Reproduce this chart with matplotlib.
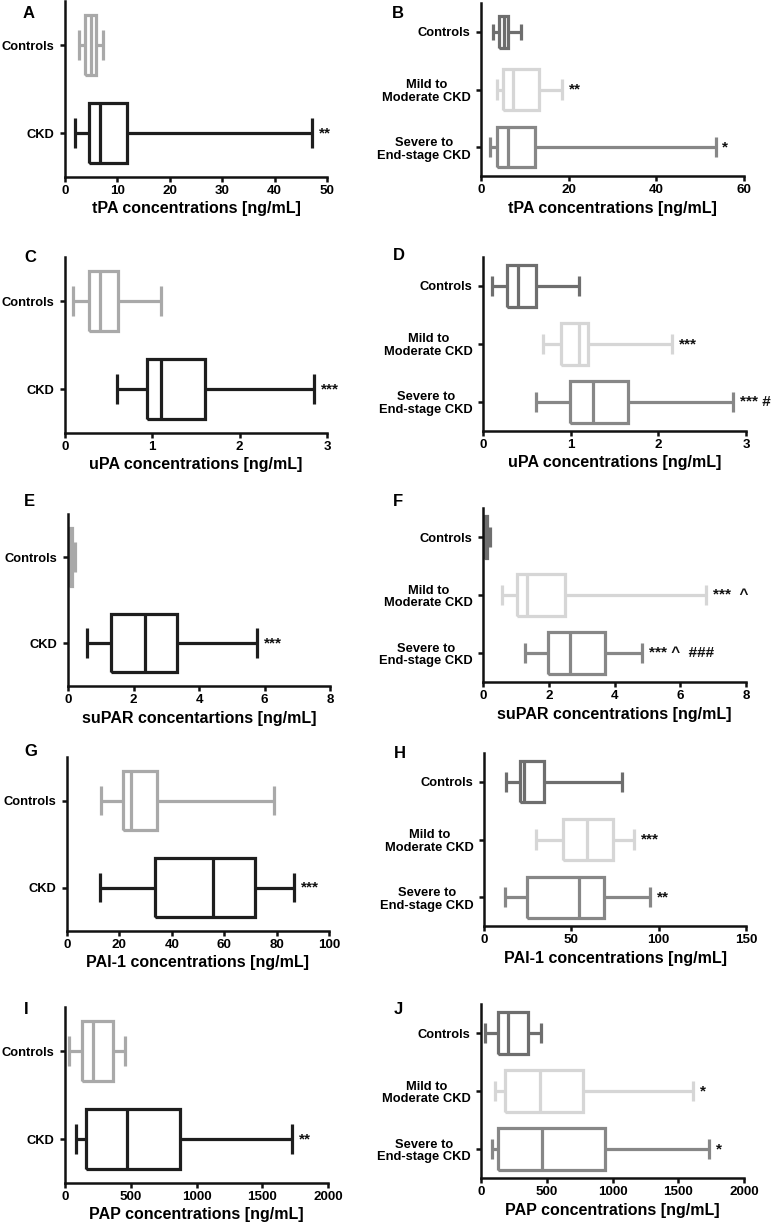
import matplotlib
matplotlib.use('Agg')
import matplotlib.pyplot as plt

W, H = 773, 1227
plt.rcParams['font.family'] = ['Liberation Sans', 'DejaVu Sans']
plt.rcParams['font.weight'] = 'bold'
plt.rcParams['axes.labelweight'] = 'bold'

# ---------------- data: [min, Q1, median, Q3, max] ----------------
groups_2 = ['Controls', 'CKD']
groups_3 = ['Controls', 'Mild to\nModerate CKD', 'Severe to\nEnd-stage CKD']

tpa_2_controls = [2.7, 3.8, 4.9, 5.9, 7.3]
tpa_2_ckd = [2.0, 4.6, 6.6, 11.8, 47.2]
tpa_3_controls = [2.7, 4.2, 5.2, 6.2, 9.1]
tpa_3_mild = [3.6, 5.1, 7.4, 13.3, 18.5]
tpa_3_severe = [2.0, 3.6, 6.2, 12.3, 53.5]

upa_2_controls = [0.09, 0.27, 0.40, 0.61, 1.10]
upa_2_ckd = [0.60, 0.94, 1.10, 1.60, 2.85]
upa_3_controls = [0.10, 0.27, 0.40, 0.60, 1.10]
upa_3_mild = [0.69, 0.89, 1.10, 1.20, 2.16]
upa_3_severe = [0.60, 0.99, 1.25, 1.65, 2.85]

supar_2_controls = [0.0, 0.03, 0.08, 0.12, 0.22]
supar_2_ckd = [0.58, 1.32, 2.34, 3.33, 5.76]
supar_3_controls = [0.0, 0.03, 0.08, 0.12, 0.22]
supar_3_mild = [0.59, 1.04, 1.35, 2.49, 6.79]
supar_3_severe = [1.29, 1.98, 2.64, 3.71, 4.85]

pai_2_controls = [12.9, 21.3, 24.5, 34.5, 79.0]
pai_2_ckd = [12.7, 33.6, 55.6, 71.7, 86.8]
pai_3_controls = [12.4, 20.8, 23.0, 34.2, 78.8]
pai_3_mild = [30.0, 45.3, 58.7, 74.0, 86.0]
pai_3_severe = [12.0, 24.9, 54.3, 68.6, 95.0]

pap_2_controls = [30, 127, 210, 362, 456]
pap_2_ckd = [84, 157, 468, 873, 1729]
pap_3_controls = [33, 132, 208, 361, 457]
pap_3_mild = [107, 185, 450, 775, 1609]
pap_3_severe = [81, 132, 465, 945, 1736]

# significance marks
marks_A = ['', '**']
marks_B = ['', '**', '*']
marks_C = ['', '***']
marks_D = ['', '***', '*** #']
marks_E = ['', '***']
marks_F = ['', '***  ^', '*** ^  ###']
marks_G = ['', '***']
marks_H = ['', '***', '**']
marks_I = ['', '**']
marks_J = ['', '*', '*']

xlabels = {
    'A': 'tPA concentrations [ng/mL]', 'B': 'tPA concentrations [ng/mL]',
    'C': 'uPA concentrations [ng/mL]', 'D': 'uPA concentrations [ng/mL]',
    'E': 'suPAR concentartions [ng/mL]', 'F': 'suPAR concentrations [ng/mL]',
    'G': 'PAI-1 concentrations [ng/mL]', 'H': 'PAI-1 concentrations [ng/mL]',
    'I': 'PAP concentrations [ng/mL]', 'J': 'PAP concentrations [ng/mL]',
}

# ---------------- styling ----------------
col2 = ['#a9a9a9', '#1e1e1e']
col3 = ['#6e6e6e', '#d6d6d6', '#878787']

fig = plt.figure(figsize=(W / 100, H / 100), dpi=100)
fig.patch.set_facecolor('white')


def panel(rect, letter, letter_xy, cats, stats, colors, marks, xmax, xticks, widths):
    l, t, r, b = rect
    ax = fig.add_axes([l / W, 1 - b / H, (r - l) / W, (b - t) / H])
    n = len(cats)
    pos = list(range(n - 1, -1, -1))
    bstats = [dict(whislo=s[0], q1=s[1], med=s[2], q3=s[3], whishi=s[4], fliers=[]) for s in stats]
    art = ax.bxp(bstats, positions=pos, widths=widths, orientation='horizontal',
                 showfliers=False)
    lw = 2.3
    for i, c in enumerate(colors):
        items = [art['boxes'][i], art['medians'][i],
                 art['whiskers'][2 * i], art['whiskers'][2 * i + 1],
                 art['caps'][2 * i], art['caps'][2 * i + 1]]
        for it in items:
            it.set_color(c)
            it.set_linewidth(lw)
            it.set_solid_capstyle('butt')
            it.set_solid_joinstyle('miter')
    for i, m in enumerate(marks):
        if m:
            ax.annotate(m, xy=(stats[i][4], pos[i]), xytext=(5, 0), textcoords='offset points',
                        va='center', ha='left', fontsize=11, fontweight='bold', color='#111111')
    ax.set_xlim(0, xmax)
    ax.set_ylim(-0.5, n - 0.5)
    ax.set_xticks(xticks)
    ax.set_xticklabels([str(v) for v in xticks], fontsize=9.6, fontweight='bold')
    ax.set_yticks(pos)
    ax.set_yticklabels(cats, fontsize=9.3, fontweight='bold', multialignment='center',
                       linespacing=1.1)
    for s in ('top', 'right'):
        ax.spines[s].set_visible(False)
    for s in ('left', 'bottom'):
        ax.spines[s].set_linewidth(1.8)
        ax.spines[s].set_color('#111111')
    ax.tick_params(axis='x', direction='out', length=3.5, width=1.8, color='#111111', pad=2.5)
    ax.tick_params(axis='y', direction='out', length=3.5, width=1.8, color='#111111', pad=4)
    ax.set_xlabel(xlabels[letter], fontsize=11.5, fontweight='bold', labelpad=3)
    ax.set_facecolor('none')
    fig.text(letter_xy[0] / W, 1 - letter_xy[1] / H, letter, fontsize=12, fontweight='bold',
             ha='left', va='center')
    return ax


xt_tpa2 = [0, 10, 20, 30, 40, 50]
xt_tpa3 = [0, 20, 40, 60]
xt_upa = [0, 1, 2, 3]
xt_supar = [0, 2, 4, 6, 8]
xt_pai2 = [0, 20, 40, 60, 80, 100]
xt_pai3 = [0, 50, 100, 150]
xt_pap = [0, 500, 1000, 1500, 2000]

w2 = 0.68
w3 = [0.56, 0.71, 0.70]

panel((65, 1, 327, 177), 'A', (23, 14), groups_2, [tpa_2_controls, tpa_2_ckd], col2, marks_A, 50, xt_tpa2, w2)
panel((481, 3, 744, 176), 'B', (392, 14), groups_3, [tpa_3_controls, tpa_3_mild, tpa_3_severe], col3, marks_B, 60, xt_tpa3, w3)
panel((65, 257, 327, 433), 'C', (24, 257), groups_2, [upa_2_controls, upa_2_ckd], col2, marks_C, 3, xt_upa, w2)
panel((483, 257, 746, 431), 'D', (393, 256), groups_3, [upa_3_controls, upa_3_mild, upa_3_severe], col3, marks_D, 3, xt_upa, 0.71)
panel((68, 514, 330, 686), 'E', (24, 502), groups_2, [supar_2_controls, supar_2_ckd], col2, marks_E, 8, xt_supar, w2)
panel((483, 508, 746, 682), 'F', (393, 502), groups_3, [supar_3_controls, supar_3_mild, supar_3_severe], col3, marks_F, 8, xt_supar, 0.71)
panel((67, 757, 329, 931), 'G', (24, 752), groups_2, [pai_2_controls, pai_2_ckd], col2, marks_G, 100, xt_pai2, w2)
panel((484, 753, 746, 926), 'H', (394, 753), groups_3, [pai_3_controls, pai_3_mild, pai_3_severe], col3, marks_H, 150, xt_pai3, 0.71)
panel((65, 1007, 328, 1183), 'I', (24, 1010), groups_2, [pap_2_controls, pap_2_ckd], col2, marks_I, 2000, xt_pap, w2)
panel((481, 1004, 744, 1178), 'J', (394, 1010), groups_3, [pap_3_controls, pap_3_mild, pap_3_severe], col3, marks_J, 2000, xt_pap, 0.71)

fig.savefig('out.png', dpi=100, facecolor='white')
